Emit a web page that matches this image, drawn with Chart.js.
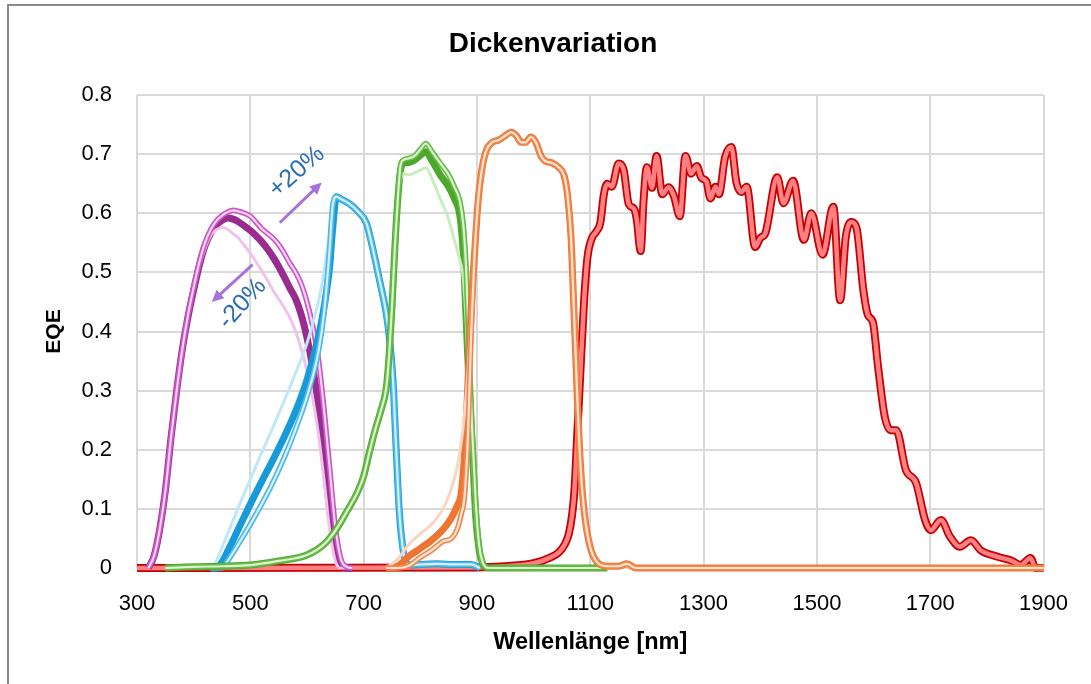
<!DOCTYPE html>
<html lang="de">
<head>
<meta charset="utf-8">
<title>Dickenvariation</title>
<script src="https://cdn.jsdelivr.net/npm/chart.js@4.4.1/dist/chart.umd.min.js"></script>
<style>
  html, body { margin: 0; padding: 0; background: #fff; }
  #rahmen { position: relative; width: 1091px; height: 684px; overflow: hidden; }
  #rahmen::after {
    content: ''; position: absolute; left: 7px; top: 4px; right: -10px; bottom: -10px;
    border-left: 2px solid #8a8a8a; border-top: 2px solid #8a8a8a; pointer-events: none;
  }
  canvas { position: absolute; left: 0; top: 0; }
</style>
</head>
<body>
<div id="rahmen"><canvas id="diagramm" width="1091" height="684"></canvas></div>
<script>
// ============================================
// DATEN
// ============================================

const FONT = "'Liberation Sans', Arial, sans-serif";
const titel = 'Dickenvariation';

const xTicks = [300, 500, 700, 900, 1100, 1300, 1500, 1700, 1900];
const yTicks = [0, 0.1, 0.2, 0.3, 0.4, 0.5, 0.6, 0.7, 0.8];
const yTickLabels = ['0', '0.1', '0.2', '0.3', '0.4', '0.5', '0.6', '0.7', '0.8'];

// Lila (kurzwellig)
const lilaWl = [320, 330, 340, 350, 360, 370, 380, 390, 400, 410, 420, 430, 440, 450, 460, 470, 480, 490, 500,
  510, 520, 530, 540, 550, 560, 570, 580, 590, 600, 610, 620, 630, 640, 650, 660, 670, 680];
const lilaNom = [0, 0.02, 0.065, 0.13, 0.22, 0.3, 0.37, 0.425, 0.47, 0.512, 0.545, 0.566, 0.58, 0.588, 0.592, 0.59, 0.585, 0.578, 0.571,
  0.562, 0.552, 0.54, 0.526, 0.51, 0.492, 0.473, 0.455, 0.428, 0.39, 0.34, 0.275, 0.19, 0.1, 0.035, 0.006, 0, 0];
const lilaPlus = [0, 0.02, 0.065, 0.13, 0.22, 0.3, 0.37, 0.428, 0.475, 0.517, 0.55, 0.572, 0.587, 0.596, 0.602, 0.605, 0.603, 0.6, 0.595,
  0.585, 0.574, 0.566, 0.558, 0.547, 0.532, 0.515, 0.5, 0.48, 0.45, 0.41, 0.355, 0.27, 0.17, 0.07, 0.015, 0.002, 0];
const lilaMinus = [0, 0.02, 0.065, 0.13, 0.22, 0.3, 0.37, 0.425, 0.47, 0.51, 0.54, 0.562, 0.572, 0.576, 0.573, 0.565, 0.557, 0.545, 0.532,
  0.518, 0.503, 0.487, 0.47, 0.455, 0.44, 0.423, 0.4, 0.37, 0.333, 0.288, 0.228, 0.15, 0.065, 0.012, 0, 0, 0];

// Blau
const blauWl = [430, 440, 450, 460, 480, 500, 520, 540, 560, 580, 600, 620, 630, 640, 645, 652, 660, 675, 690, 705,
  715, 728, 740, 746, 752, 757, 763, 769, 775, 785, 800, 830, 860, 890, 905];
const blauNom = [0, 0, 0.01, 0.028, 0.068, 0.108, 0.146, 0.183, 0.222, 0.265, 0.318, 0.39, 0.44, 0.51, 0.57, 0.628, 0.624, 0.616, 0.603, 0.583,
  0.545, 0.487, 0.43, 0.385, 0.315, 0.21, 0.095, 0.035, 0.008, 0.005, 0.006, 0.007, 0.006, 0.006, 0];
const blauPlus = [0, 0, 0, 0.012, 0.042, 0.074, 0.108, 0.145, 0.187, 0.235, 0.29, 0.365, 0.43, 0.54, 0.61, 0.628, 0.624, 0.616, 0.603, 0.583,
  0.545, 0.487, 0.43, 0.385, 0.315, 0.21, 0.095, 0.035, 0.008, 0.005, 0.006, 0.007, 0.006, 0.006, 0];
const blauMinus = [0, 0.012, 0.035, 0.058, 0.105, 0.15, 0.195, 0.238, 0.283, 0.33, 0.38, 0.45, 0.5, 0.57, 0.61, 0.628, 0.624, 0.616, 0.603, 0.583,
  0.545, 0.487, 0.43, 0.385, 0.315, 0.21, 0.095, 0.035, 0.008, 0.005, 0.006, 0.007, 0.006, 0.006, 0];

// Gruen
const gruenWl = [350, 400, 450, 500, 550, 600, 630, 650, 670, 690, 700, 710, 720, 730, 740, 745, 750, 755, 760, 765,
  770, 780, 790, 800, 810, 820, 835, 850, 860, 870, 876, 881, 886, 892, 898, 904, 910, 920, 1000, 1130];
const gruenNom = [0, 0.002, 0.003, 0.005, 0.012, 0.022, 0.04, 0.063, 0.095, 0.13, 0.155, 0.195, 0.232, 0.265, 0.305, 0.36, 0.44, 0.54, 0.62, 0.672,
  0.685, 0.686, 0.69, 0.698, 0.704, 0.69, 0.665, 0.645, 0.625, 0.595, 0.53, 0.42, 0.31, 0.2, 0.085, 0.03, 0.008, 0, 0, 0];
const gruenPlus = [0, 0.002, 0.003, 0.005, 0.012, 0.022, 0.04, 0.063, 0.095, 0.13, 0.155, 0.195, 0.232, 0.265, 0.305, 0.36, 0.44, 0.54, 0.62, 0.68,
  0.69, 0.693, 0.697, 0.708, 0.718, 0.705, 0.685, 0.665, 0.645, 0.62, 0.58, 0.505, 0.37, 0.225, 0.11, 0.038, 0.01, 0, 0, 0];
const gruenMinus = [0, 0.002, 0.003, 0.005, 0.012, 0.022, 0.04, 0.063, 0.095, 0.13, 0.155, 0.195, 0.232, 0.265, 0.305, 0.36, 0.44, 0.54, 0.62, 0.655,
  0.667, 0.665, 0.668, 0.673, 0.677, 0.66, 0.625, 0.59, 0.555, 0.52, 0.49, 0.415, 0.3, 0.19, 0.08, 0.028, 0.006, 0, 0, 0];

// Orange
const orangeWl = [740, 760, 780, 800, 820, 840, 855, 865, 872, 878, 884, 890, 896, 902, 908, 916, 927, 939, 951, 960,
  969, 978, 986, 995, 1004, 1013, 1021, 1033, 1045, 1054, 1060, 1066, 1071, 1077, 1083, 1090, 1100, 1112, 1130, 1150,
  1165, 1180, 1900];
const orangeNom = [0, 0.003, 0.02, 0.033, 0.047, 0.065, 0.085, 0.105, 0.125, 0.19, 0.31, 0.44, 0.535, 0.62, 0.67, 0.705, 0.72, 0.724, 0.732, 0.737,
  0.732, 0.72, 0.72, 0.729, 0.72, 0.697, 0.688, 0.685, 0.677, 0.663, 0.63, 0.56, 0.44, 0.29, 0.17, 0.09, 0.035, 0.01, 0.003, 0.003,
  0.007, 0, 0];
const orangePlus = [0, 0, 0.004, 0.018, 0.03, 0.045, 0.05, 0.065, 0.09, 0.12, 0.22, 0.4, 0.535, 0.62, 0.67, 0.705, 0.72, 0.724, 0.732, 0.737,
  0.732, 0.72, 0.72, 0.729, 0.72, 0.697, 0.688, 0.685, 0.677, 0.663, 0.63, 0.56, 0.44, 0.29, 0.17, 0.09, 0.035, 0.01, 0.003, 0.003,
  0.007, 0, 0];
const orangeMinus = [0, 0.015, 0.04, 0.058, 0.074, 0.1, 0.135, 0.17, 0.21, 0.26, 0.33, 0.44, 0.535, 0.62, 0.67, 0.705, 0.72, 0.724, 0.732, 0.737,
  0.732, 0.72, 0.72, 0.729, 0.72, 0.697, 0.688, 0.685, 0.677, 0.663, 0.63, 0.56, 0.44, 0.29, 0.17, 0.09, 0.035, 0.01, 0.003, 0.003,
  0.007, 0, 0];

// Rot (langwellig)
const rotWl = [300, 900, 950, 1000, 1030, 1045, 1055, 1062, 1068, 1072, 1077, 1083, 1089, 1095, 1103, 1110, 1118, 1124, 1130, 1138,
  1150, 1159, 1168, 1177, 1182, 1189, 1194, 1200, 1209, 1217, 1227, 1238, 1248, 1258, 1268, 1278, 1288, 1296, 1305, 1312,
  1321, 1327, 1338, 1349, 1358, 1367, 1376, 1391, 1400, 1409, 1430, 1441, 1458, 1477, 1490, 1510, 1529, 1541, 1551, 1561,
  1570, 1582, 1590, 1599, 1608, 1620, 1631, 1640, 1657, 1675, 1691, 1701, 1719, 1735, 1752, 1772, 1789, 1819, 1842, 1860,
  1877, 1886, 1900];
const rotWerte = [0, 0.001, 0.003, 0.008, 0.018, 0.027, 0.04, 0.057, 0.09, 0.13, 0.225, 0.34, 0.45, 0.525, 0.558, 0.568, 0.585, 0.632, 0.65, 0.645,
  0.684, 0.673, 0.615, 0.608, 0.59, 0.536, 0.62, 0.678, 0.643, 0.697, 0.632, 0.644, 0.628, 0.595, 0.697, 0.667, 0.68, 0.66, 0.654, 0.625,
  0.645, 0.632, 0.695, 0.712, 0.652, 0.636, 0.645, 0.543, 0.558, 0.566, 0.661, 0.617, 0.655, 0.555, 0.6, 0.53, 0.611, 0.453, 0.56, 0.585,
  0.575, 0.47, 0.428, 0.415, 0.34, 0.255, 0.233, 0.233, 0.166, 0.144, 0.081, 0.064, 0.081, 0.053, 0.036, 0.047, 0.03, 0.019, 0.013, 0.005,
  0.017, 0, 0];

// Pfeile und Beschriftung (Datenkoordinaten)
const pfeile = [
  { von: [552, 0.584], nach: [626, 0.652], text: '+20%', textPos: [582, 0.67], winkel: -41 },
  { von: [504, 0.513], nach: [432, 0.45], text: '-20%', textPos: [486, 0.447], winkel: -48 }
];

// ============================================
// DATENSAETZE
// ============================================

function punkte(wl, werte) {
  return wl.map((x, i) => ({ x: x, y: werte[i] }));
}

function linie(wl, werte, farbe, breite) {
  return {
    data: punkte(wl, werte),
    borderColor: farbe,
    borderWidth: breite,
    pointRadius: 0,
    fill: false,
    clip: false,
    cubicInterpolationMode: 'monotone',
    borderJoinStyle: 'round',
    borderCapStyle: 'butt'
  };
}

// Nominal dick, -20% blass, +20% als Doppellinie
function gruppe(wl, nom, plus, minus, f) {
  return [
    linie(wl, nom, f.nom, 7),
    linie(wl, minus, f.minus, 3),
    linie(wl, plus, f.plus, 5.5),
    linie(wl, plus, f.innen, 2.2)
  ];
}

// von unten nach oben
const ebenen = [
  linie(rotWl, rotWerte, '#c40000', 8),
  linie(rotWl, rotWerte, '#ff8083', 4.5),
  ...gruppe(lilaWl, lilaNom, lilaPlus, lilaMinus, { nom: '#9a2b8f', plus: '#c957c4', innen: '#f6d4f2', minus: '#f1c2eb' }),
  ...gruppe(blauWl, blauNom, blauPlus, blauMinus, { nom: '#169ad8', plus: '#4db8ea', innen: '#d6f0fb', minus: '#c0e7f8' }),
  ...gruppe(gruenWl, gruenNom, gruenPlus, gruenMinus, { nom: '#4ba82c', plus: '#66bb44', innen: '#ddf3d3', minus: '#cbecbf' }),
  ...gruppe(orangeWl, orangeNom, orangePlus, orangeMinus, { nom: '#ee7432', plus: '#f0874a', innen: '#fde4d5', minus: '#fbd5c1' })
];
const datasets = ebenen.map((d, i) => Object.assign(d, { order: ebenen.length - i }));

// ============================================
// TITEL UND PFEILE
// ============================================

const beschriftungPlugin = {
  id: 'beschriftung',
  afterDraw(chart) {
    const { ctx, scales: { x, y } } = chart;

    ctx.save();
    ctx.font = 'bold 28px ' + FONT;
    ctx.fillStyle = '#000';
    ctx.textAlign = 'center';
    ctx.textBaseline = 'middle';
    ctx.fillText(titel, 553, 44);
    ctx.restore();

    pfeile.forEach(p => {
      const x1 = x.getPixelForValue(p.von[0]), y1 = y.getPixelForValue(p.von[1]);
      const x2 = x.getPixelForValue(p.nach[0]), y2 = y.getPixelForValue(p.nach[1]);
      const w = Math.atan2(y2 - y1, x2 - x1);
      const kopf = 13;

      ctx.save();
      ctx.strokeStyle = '#a772d9';
      ctx.fillStyle = '#a772d9';
      ctx.lineWidth = 3;
      ctx.beginPath();
      ctx.moveTo(x1, y1);
      ctx.lineTo(x2 - Math.cos(w) * kopf * 0.8, y2 - Math.sin(w) * kopf * 0.8);
      ctx.stroke();
      ctx.beginPath();
      ctx.moveTo(x2, y2);
      ctx.lineTo(x2 - Math.cos(w - 0.45) * kopf, y2 - Math.sin(w - 0.45) * kopf);
      ctx.lineTo(x2 - Math.cos(w + 0.45) * kopf, y2 - Math.sin(w + 0.45) * kopf);
      ctx.closePath();
      ctx.fill();

      ctx.translate(x.getPixelForValue(p.textPos[0]), y.getPixelForValue(p.textPos[1]));
      ctx.rotate(p.winkel * Math.PI / 180);
      ctx.font = '25px ' + FONT;
      ctx.fillStyle = '#2a6db5';
      ctx.textAlign = 'center';
      ctx.textBaseline = 'middle';
      ctx.fillText(p.text, 0, 0);
      ctx.restore();
    });
  }
};

// ============================================
// DIAGRAMM
// ============================================

new Chart(document.getElementById('diagramm'), {
  type: 'line',
  data: { datasets: datasets },
  options: {
    responsive: false,
    animation: false,
    devicePixelRatio: 1,
    layout: { padding: { left: 0, right: 45, top: 95, bottom: 0 } },
    plugins: {
      legend: { display: false },
      tooltip: { enabled: false },
      title: { display: false }
    },
    scales: {
      x: {
        type: 'linear',
        min: 300,
        max: 1900,
        afterBuildTicks: s => { s.ticks = xTicks.map(v => ({ value: v })); },
        afterFit: s => { s.height = 116; },
        ticks: {
          color: '#000',
          font: { family: FONT, size: 22 },
          padding: 23,
          maxRotation: 0,
          autoSkip: false,
          callback: v => String(v)
        },
        grid: { color: '#d9d9d9', lineWidth: 2, drawTicks: false },
        border: { display: false },
        title: {
          display: true,
          text: 'Wellenlänge [nm]',
          color: '#000',
          font: { family: FONT, size: 23.5, weight: 'bold' },
          padding: { top: 0, bottom: 27 }
        }
      },
      y: {
        min: 0,
        max: 0.8,
        afterBuildTicks: s => { s.ticks = yTicks.map(v => ({ value: v })); },
        afterFit: s => { s.width = 137; },
        ticks: {
          color: '#000',
          font: { family: FONT, size: 22 },
          padding: 25,
          autoSkip: false,
          callback: (v, i) => yTickLabels[i]
        },
        grid: { color: '#d9d9d9', lineWidth: 2, drawTicks: false },
        border: { display: false },
        title: {
          display: true,
          text: 'EQE',
          color: '#000',
          font: { family: FONT, size: 21, weight: 'bold' },
          padding: { top: 42, bottom: 0 }
        }
      }
    }
  },
  plugins: [beschriftungPlugin]
});
</script>
</body>
</html>
